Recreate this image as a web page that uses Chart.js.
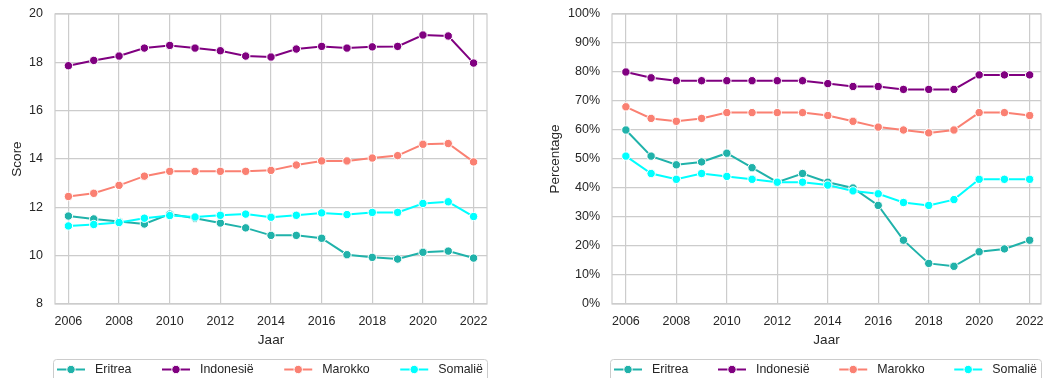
<!DOCTYPE html>
<html>
<head>
<meta charset="utf-8">
<title>Eritrea, Indonesië, Marokko, Somalië</title>
<script src="https://cdn.jsdelivr.net/npm/chart.js@4"></script>
<style>
  html, body { margin: 0; padding: 0; background: #fff; width: 1043px; height: 378px; overflow: hidden; }
  canvas { position: absolute; top: 0; }
  #score-chart { left: 0; }
  #pct-chart { left: 520px; }
</style>
</head>
<body>
<canvas id="score-chart" width="520" height="378"></canvas>
<canvas id="pct-chart" width="540" height="378"></canvas>
<script>
const years = [2006, 2007, 2008, 2009, 2010, 2011, 2012, 2013, 2014, 2015, 2016, 2017, 2018, 2019, 2020, 2021, 2022];
const yearTicks = [2006, 2008, 2010, 2012, 2014, 2016, 2018, 2020, 2022];
const countries = ["Eritrea", "Indonesië", "Marokko", "Somalië"];

// gemiddelde score per jaar
const scoreEritrea = [11.64, 11.52, 11.41, 11.31, 11.72, 11.55, 11.35, 11.15, 10.84, 10.84, 10.72, 10.04, 9.93, 9.86, 10.14, 10.19, 9.90];
const scoreIndonesie = [17.86, 18.08, 18.26, 18.59, 18.70, 18.59, 18.48, 18.26, 18.22, 18.55, 18.66, 18.59, 18.64, 18.66, 19.13, 19.09, 17.97];
const scoreMarokko = [12.45, 12.58, 12.91, 13.29, 13.49, 13.49, 13.49, 13.49, 13.53, 13.75, 13.92, 13.92, 14.04, 14.14, 14.61, 14.64, 13.88];
const scoreSomalie = [11.23, 11.29, 11.37, 11.55, 11.66, 11.60, 11.67, 11.72, 11.59, 11.67, 11.77, 11.70, 11.79, 11.79, 12.16, 12.23, 11.62];

// percentage per jaar
const pctEritrea = [60, 51, 48, 49, 52, 47, 42, 45, 42, 40, 34, 22, 14, 13, 18, 19, 22];
const pctIndonesie = [80, 78, 77, 77, 77, 77, 77, 77, 76, 75, 75, 74, 74, 74, 79, 79, 79];
const pctMarokko = [68, 64, 63, 64, 66, 66, 66, 66, 65, 63, 61, 60, 59, 60, 66, 66, 65];
const pctSomalie = [51, 45, 43, 45, 44, 43, 42, 42, 41, 39, 38, 35, 34, 36, 43, 43, 43];

const colors = ["#20b2aa", "#800080", "#fa8072", "#00ffff"];
const gridColor = "#cccccc";
const textColor = "#262626";
const fontFamily = '"Liberation Sans", Arial, sans-serif';

const toPoints = (values) => values.map((v, i) => ({ x: years[i], y: v }));

const makeDatasets = (series) =>
  series.map((values, i) => ({
    label: countries[i],
    data: toPoints(values),
    borderColor: colors[i],
    backgroundColor: colors[i],
    pointBackgroundColor: colors[i],
    pointBorderColor: "#ffffff",
    pointBorderWidth: 1,
    pointRadius: 4.2,
    borderWidth: 2,
    tension: 0,
    // later series end up on top
    order: series.length - i,
  }));

// frame around the plot area (all four spines)
const plotFrame = {
  id: "plotFrame",
  beforeDatasetsDraw(chart) {
    const { ctx, chartArea: a } = chart;
    ctx.save();
    ctx.strokeStyle = gridColor;
    ctx.lineWidth = 1.2;
    ctx.strokeRect(a.left, a.top, a.right - a.left, a.bottom - a.top);
    ctx.restore();
  },
};

// legend below the axes, spread over the plot width
const boxedLegend = {
  id: "boxedLegend",
  afterDraw(chart) {
    const { ctx, chartArea: a } = chart;
    const sets = chart.data.datasets;
    const handle = 28;
    const textGap = 10;
    const pad = 4;
    ctx.save();
    ctx.font = "12.4px " + fontFamily;
    const widths = sets.map((d) => handle + textGap + ctx.measureText(d.label).width);
    const left = a.left - 2;
    const right = a.right;
    const total = widths.reduce((s, w) => s + w, 0);
    const gap = (right - left - 2 * pad - total) / (sets.length - 1);
    const top = a.bottom + 55;
    const cy = a.bottom + 65.5;

    ctx.beginPath();
    ctx.roundRect(left + 0.5, top + 0.5, right - left, 40, 3);
    ctx.fillStyle = "#ffffff";
    ctx.fill();
    ctx.strokeStyle = gridColor;
    ctx.lineWidth = 1;
    ctx.stroke();

    let x = left + pad;
    sets.forEach((d, i) => {
      ctx.strokeStyle = d.borderColor;
      ctx.lineWidth = 2;
      ctx.beginPath();
      ctx.moveTo(x, cy);
      ctx.lineTo(x + handle, cy);
      ctx.stroke();
      ctx.beginPath();
      ctx.arc(x + handle / 2, cy, 4.2, 0, Math.PI * 2);
      ctx.fillStyle = d.borderColor;
      ctx.fill();
      ctx.strokeStyle = "#ffffff";
      ctx.lineWidth = 1;
      ctx.stroke();
      ctx.fillStyle = textColor;
      ctx.textBaseline = "middle";
      ctx.textAlign = "left";
      ctx.fillText(d.label, x + handle + textGap, cy);
      x += widths[i] + gap;
    });
    ctx.restore();
  },
};

function makeChart(id, series, yOpts) {
  return new Chart(document.getElementById(id), {
    type: "line",
    data: { datasets: makeDatasets(series) },
    options: {
      responsive: false,
      devicePixelRatio: 1,
      animation: false,
      layout: { padding: yOpts.padding },
      plugins: {
        legend: { display: false },
        tooltip: { enabled: false },
      },
      scales: {
        x: {
          type: "linear",
          min: yOpts.xMin,
          max: yOpts.xMax,
          afterBuildTicks: (axis) => {
            axis.ticks = yearTicks.map((v) => ({ value: v }));
          },
          afterFit: (axis) => {
            axis.height = 50;
          },
          grid: { color: gridColor, lineWidth: 1.2, drawTicks: false },
          border: { display: false },
          ticks: {
            color: textColor,
            font: { family: fontFamily, size: 12.5 },
            padding: 10,
            maxRotation: 0,
            callback: (v) => String(v),
          },
          title: {
            display: true,
            text: "Jaar",
            color: textColor,
            font: { family: fontFamily, size: 13.5 },
            padding: { top: 0, bottom: 6 },
          },
        },
        y: {
          min: yOpts.min,
          max: yOpts.max,
          afterFit: (axis) => {
            axis.width = yOpts.axisWidth;
            axis.paddingTop = 0;
            axis.paddingBottom = 0;
          },
          grid: { color: gridColor, lineWidth: 1.2, drawTicks: false },
          border: { display: false },
          ticks: {
            color: textColor,
            font: { family: fontFamily, size: 12.5 },
            padding: 12,
            stepSize: yOpts.step,
            callback: yOpts.format,
          },
          title: {
            display: true,
            text: yOpts.title,
            color: textColor,
            font: { family: fontFamily, size: 13.5 },
            padding: { top: yOpts.titlePad, bottom: 0 },
          },
        },
      },
    },
    plugins: [plotFrame, boxedLegend],
  });
}

makeChart("score-chart", [scoreEritrea, scoreIndonesie, scoreMarokko, scoreSomalie], {
  min: 8,
  max: 20,
  step: 2,
  xMin: 2005.47,
  xMax: 2022.53,
  axisWidth: 55,
  title: "Score",
  titlePad: 9,
  format: (v) => String(v),
  padding: { top: 14, right: 33, bottom: 24, left: 0 },
});

makeChart("pct-chart", [pctEritrea, pctIndonesie, pctMarokko, pctSomalie], {
  min: 0,
  max: 100,
  step: 10,
  xMin: 2005.45,
  xMax: 2022.45,
  axisWidth: 92,
  title: "Percentage",
  titlePad: 27,
  format: (v) => v + "%",
  padding: { top: 14, right: 19, bottom: 24, left: 0 },
});
</script>
</body>
</html>
